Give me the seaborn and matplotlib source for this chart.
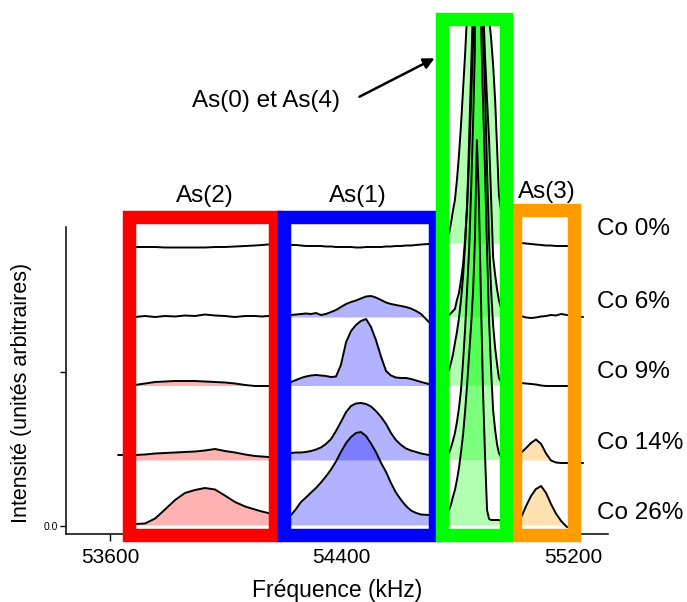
import numpy as np
import pandas as pd
import matplotlib
matplotlib.use("Agg")
import matplotlib.pyplot as plt
from matplotlib.patches import Rectangle
import seaborn as sns

# ---------------- data ----------------
freq_khz = [53628, 53652, 53686, 53721, 53756, 53790, 53825, 53859, 53894, 53928,
            53963, 53997, 54032, 54067, 54101, 54125, 54146, 54174,
            54201, 54226, 54243, 54260, 54277, 54295, 54312, 54329, 54346, 54364,
            54381, 54398, 54416, 54433, 54450, 54467, 54485, 54502, 54519, 54537,
            54554, 54571, 54588, 54606, 54623, 54640, 54658, 54675, 54702, 54730, 54751,
            54772, 54779, 54785, 54792, 54799, 54806, 54813, 54820, 54827, 54834,
            54841, 54848, 54855, 54861, 54868, 54875, 54882, 54889, 54896, 54903,
            54910, 54917, 54924, 54931, 54938, 54944, 54951, 54972, 54996,
            55020, 55038, 55055, 55072, 55090, 55107, 55124, 55141, 55159, 55179,
            55204, 55235]

co0 = [np.nan, 2.79, 2.79, 2.79, 2.79, 2.785, 2.785, 2.785, 2.785, 2.785,
       2.79, 2.79, 2.795, 2.80, 2.805, 2.81, 2.815, 2.815,
       2.81, 2.81, 2.81, 2.805, 2.80, 2.80, 2.80, 2.80, 2.795, 2.795,
       2.79, 2.79, 2.79, 2.79, 2.785, 2.785, 2.79, 2.79, 2.79, 2.79,
       2.795, 2.795, 2.80, 2.80, 2.805, 2.805, 2.81, 2.815, 2.82, 2.84, 2.87,
       2.93, 3.04, 3.15, 3.26, 3.46, 3.71, 4.01, 4.36, 4.71, 5.11,
       40.0, 40.0, 40.0, 40.0, 40.0, 40.0, 40.0, 40.0, 40.0, 40.0,
       5.08, 4.88, 4.61, 4.26, 3.76, 3.31, 3.16, 2.94, 2.86,
       2.83, 2.825, 2.82, 2.815, 2.81, 2.805, 2.805, 2.80, 2.80, 2.80,
       2.80, np.nan]

co6 = [np.nan, 2.09, 2.09, 2.10, 2.09, 2.10, 2.095, 2.105, 2.10, 2.115,
       2.105, 2.10, 2.09, 2.10, 2.10, 2.095, 2.10, 2.10,
       2.10, 2.11, 2.115, 2.12, 2.125, 2.12, 2.13, 2.11, 2.12, 2.14,
       2.16, 2.19, 2.22, 2.24, 2.255, 2.275, 2.295, 2.30, 2.285, 2.26,
       2.235, 2.22, 2.21, 2.20, 2.19, 2.175, 2.15, 2.12, 2.04, 2.06, 2.08,
       2.11, 2.13, 2.15, 2.17, 2.26, 2.33, 2.46, 2.61, 2.86, 3.19,
       3.86, 4.56, 5.26, 40.0, 40.0, 40.0, 40.0, 5.26, 4.71, 4.26,
       3.86, 3.28, 2.69, 2.51, 2.36, 2.26, 2.18, 2.11, 2.09,
       2.10, 2.085, 2.08, 2.085, 2.095, 2.10, 2.11, 2.105, 2.12, 2.11,
       2.10, 2.09]

co9 = [np.nan, 1.40, 1.41, 1.425, 1.44, 1.445, 1.45, 1.45, 1.45, 1.445,
       1.44, 1.435, 1.425, 1.41, 1.40, 1.40, 1.40, 1.41,
       1.43, 1.44, 1.46, 1.48, 1.495, 1.505, 1.51, 1.505, 1.50, 1.49,
       1.495, 1.61, 1.84, 1.95, 2.01, 2.05, 2.07, 1.99, 1.86, 1.69,
       1.55, 1.505, 1.485, 1.48, 1.48, 1.47, 1.455, 1.44, 1.42, 1.43, 1.48,
       1.56, 1.64, 1.71, 1.83, 1.94, 2.08, 2.26, 2.49, 2.81, 3.21,
       3.66, 4.26, 4.86, 40.0, 40.0, 40.0, 5.76, 4.96, 4.36, 3.56,
       2.86, 2.36, 2.01, 1.78, 1.61, 1.48, 1.44, 1.42, 1.42,
       1.43, 1.425, 1.42, 1.415, 1.405, 1.40, 1.40, 1.40, 1.40, 1.40,
       1.40, np.nan]

co14 = [0.71, 0.71, 0.71, 0.715, 0.725, 0.73, 0.735, 0.74, 0.745, 0.755,
        0.77, 0.75, 0.735, 0.715, 0.70, 0.695, 0.69, 0.69,
        0.71, 0.73, 0.735, 0.735, 0.74, 0.75, 0.765, 0.785, 0.82, 0.87,
        0.95, 1.04, 1.14, 1.20, 1.225, 1.23, 1.22, 1.195, 1.15, 1.09,
        1.02, 0.93, 0.86, 0.81, 0.775, 0.755, 0.74, 0.725, 0.71, 0.71, 0.71,
        0.73, 0.79, 0.85, 0.93, 1.04, 1.18, 1.36, 1.64, 1.96, 2.36,
        2.76, 3.36, 4.06, 4.76, 40.0, 40.0, 5.06, 4.26, 3.56, 2.76,
        2.06, 1.56, 1.16, 0.96, 0.81, 0.73, 0.69, 0.66, 0.65,
        0.73, 0.78, 0.83, 0.865, 0.82, 0.725, 0.655, 0.635, 0.63, 0.63,
        0.63, 0.63]

co26 = [np.nan, 0.01, 0.02, 0.025, 0.075, 0.165, 0.26, 0.33, 0.36, 0.38,
        0.365, 0.305, 0.24, 0.195, 0.165, 0.145, 0.13, 0.11,
        0.09, 0.11, 0.17, 0.24, 0.285, 0.335, 0.38, 0.435, 0.495, 0.565,
        0.645, 0.74, 0.83, 0.89, 0.93, 0.94, 0.90, 0.825, 0.74, 0.63,
        0.54, 0.43, 0.335, 0.26, 0.20, 0.155, 0.13, 0.115, 0.11, 0.11, 0.13,
        0.16, 0.22, 0.29, 0.36, 0.46, 0.58, 0.74, 0.91, 1.14, 1.41,
        1.71, 2.01, 2.36, 2.86, 3.86, 3.26, 2.26, 1.36, 0.71, 0.16,
        0.07, 0.06, 0.06, 0.06, 0.06, 0.06, 0.05, 0.04, 0.04,
        0.08, 0.20, 0.30, 0.37, 0.40, 0.33, 0.22, 0.125, 0.05, -0.01,
        -0.02, np.nan]

samples = ["Co 0%", "Co 6%", "Co 9%", "Co 14%", "Co 26%"]
baselines = [2.825, 2.09, 1.405, 0.66, 0.01]

sites = ["As(2)", "As(1)", "As(0) et As(4)", "As(3)"]
site_lo = [53664, 54201, 54747, 54998]
site_hi = [54169, 54722, 54970, 55202]
site_top = [3.095, 3.095, 5.075, 3.16]
site_colors = ["#ff0000", "#0000ff", "#00ff00", "#ff9c00"]
site_shaded = [[2, 3, 4], [1, 2, 3, 4], [0, 1, 2, 3, 4], [3, 4]]

# ---------------- figure ----------------
sns.set_style("ticks")
plt.rcParams['font.family'] = ['Liberation Sans', 'DejaVu Sans']
for key in ["text.color", "axes.labelcolor", "xtick.color", "ytick.color", "axes.edgecolor"]:
    plt.rcParams[key] = "black"

W, H = 687, 602
fig = plt.figure(figsize=(W / 100, H / 100), dpi=100)
ax = fig.add_axes([66 / W, 1 - 534 / H, (608 - 66) / W, (534 - 227) / H])

def fx(x, y):
    return (x / W, 1 - y / H)

# the spectra may leave the axes, but stop just above the green frame
clip_rect = Rectangle((0, 0), 1, 1 - 13 / H, transform=fig.transFigure)

series = [co0, co6, co9, co14, co26]
df = pd.concat([pd.DataFrame({"freq": freq_khz, "intensity": s, "sample": name})
                for name, s in zip(samples, series)], ignore_index=True)

sns.lineplot(data=df, x="freq", y="intensity", units="sample", estimator=None,
             sort=False, color="black", lw=1.4, ax=ax, zorder=3)
for ln in ax.get_lines():
    ln.set_clip_on(True)
    ln.set_clip_path(clip_rect)

f = np.array(freq_khz, dtype=float)
for k, (lo, hi, col, shaded) in enumerate(zip(site_lo, site_hi, site_colors, site_shaded)):
    mask = (f >= lo) & (f <= hi)
    for i in shaded:
        y = np.array(series[i], dtype=float)
        m = mask & ~np.isnan(y)
        poly = ax.fill_between(f, baselines[i], y, where=m & (y >= baselines[i]),
                               interpolate=True, facecolor=col, alpha=0.3,
                               linewidth=0, zorder=2)
        poly.set_clip_on(True)
        poly.set_clip_path(clip_rect)

for k, (lo, hi, top, col) in enumerate(zip(site_lo, site_hi, site_top, site_colors)):
    z = {0: 5, 3: 5, 1: 6, 2: 7}[k]
    r = Rectangle((lo, -0.09), hi - lo, top + 0.09, fill=False, edgecolor=col,
                  linewidth=9.7, joinstyle="miter", clip_on=False, zorder=z)
    ax.add_patch(r)

ax.set_xlim(53448, 55321)
ax.set_ylim(-0.08, 2.99)
ax.set_xticks([53600, 54400, 55200])
ax.set_xticklabels(["53600", "54400", "55200"])
ax.set_yticks([0.0, 1.54])
ax.set_yticklabels(["0.0", ""])
ax.tick_params(axis="x", direction="out", length=5, width=1, labelsize=15, pad=5)
ax.tick_params(axis="y", direction="out", length=4, width=1, labelsize=7.5, pad=2)
for s in ["top", "right"]:
    ax.spines[s].set_visible(False)
for s in ["left", "bottom"]:
    ax.spines[s].set_linewidth(1.1)
    ax.spines[s].set_color("black")
ax.set_xlabel("Fréquence (kHz)", fontsize=16.5, labelpad=9)
ax.set_ylabel("")
fig.text(*fx(22, 393), "Intensité (unités arbitraires)", rotation=90,
         ha="center", va="center", fontsize=15.5)

label_y = [229, 302, 372, 443, 513]
for name, yy in zip(samples, label_y):
    fig.text(*fx(597, yy), name, ha="left", va="center", fontsize=17.5)

site_label_pos = [(205, 196), (358, 196), (266, 101), (547, 192)]
for name, (xx, yy) in zip(sites, site_label_pos):
    fig.text(*fx(xx, yy), name, ha="center", va="center", fontsize=17.5)

ax.annotate("", xy=fx(437, 57), xycoords="figure fraction",
            xytext=fx(357, 98), textcoords="figure fraction",
            arrowprops=dict(arrowstyle="-|>", color="black", lw=1.8, mutation_scale=16))

fig.savefig("out.png", dpi=100)
